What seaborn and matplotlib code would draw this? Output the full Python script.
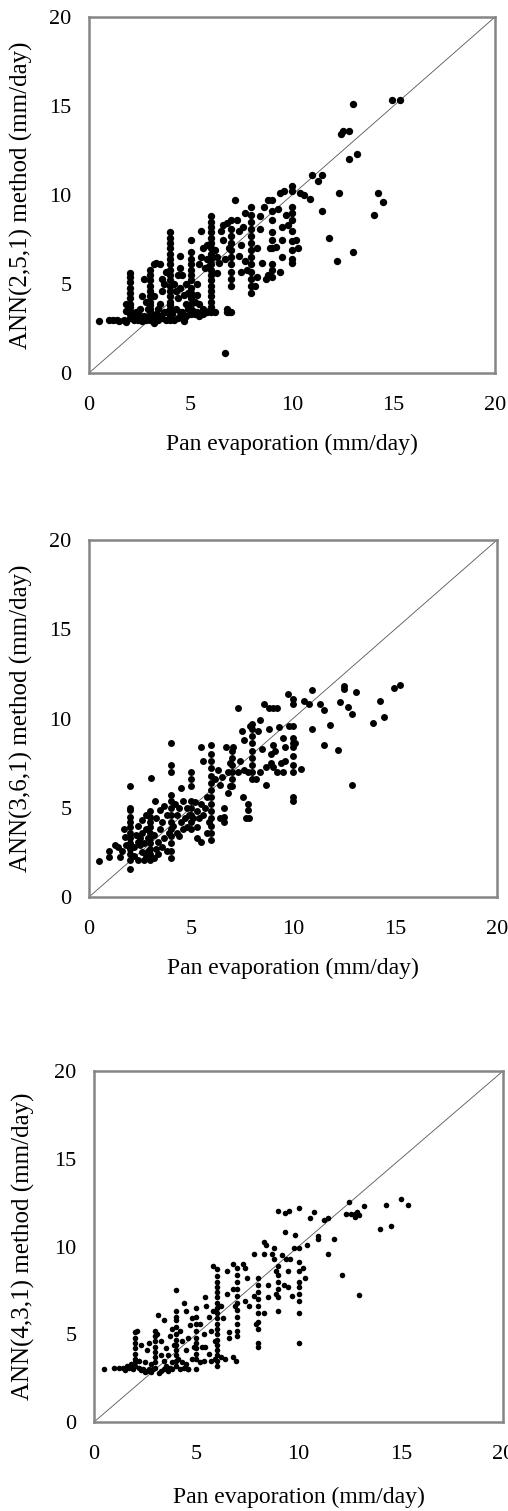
import matplotlib
matplotlib.use("Agg")
import matplotlib.pyplot as plt
import seaborn as sns
import pandas as pd

# ---------------- data ----------------
ticks = [0, 5, 10, 15, 20]
x_label = "Pan evaporation (mm/day)"
y_labels = ["ANN(2,5,1) method (mm/day)",
            "ANN(3,6,1) method (mm/day)",
            "ANN(4,3,1) method (mm/day)"]

pts_ann251 = [
    (0.5, 2.9), (1.0, 3.0), (1.2, 2.95), (1.4, 3.0), (1.5, 2.9), (1.7, 3.0), (1.8, 2.85), (2.2, 3.0),
    (2.4, 2.95), (2.5, 3.1), (2.6, 2.9), (2.8, 3.0), (3.2, 2.8), (3.4, 3.0), (3.6, 3.1), (3.8, 3.0),
    (4.2, 3.0), (4.4, 3.1), (4.6, 3.2), (4.7, 2.9), (5.2, 3.3), (5.4, 3.2), (5.6, 3.3), (5.8, 3.4),
    (6.2, 3.4), (6.8, 3.6), (6.9, 3.4), (7.0, 3.4), (2.1, 3.2), (2.3, 3.1), (2.7, 3.2), (3.1, 3.1),
    (3.5, 3.2), (3.7, 3.4), (4.1, 3.3), (4.5, 3.4), (4.8, 3.2), (5.1, 3.5), (5.3, 3.4), (5.7, 3.5),
    (2.0, 3.1), (2.0, 3.3), (2.0, 3.5), (2.0, 3.7), (2.0, 3.9), (2.0, 4.2), (2.0, 4.5), (2.0, 4.8),
    (2.0, 5.1), (2.0, 5.4), (2.0, 5.6), (1.8, 3.9), (1.8, 3.5),
    (2.3, 3.4), (2.5, 3.6), (2.6, 4.3), (2.7, 5.3), (2.8, 4.0), (2.9, 3.6), (2.5, 3.2),
    (3.0, 3.0), (3.0, 3.2), (3.0, 3.4), (3.0, 3.6), (3.0, 3.8), (3.0, 4.0), (3.0, 4.3), (3.0, 4.6),
    (3.0, 4.9), (3.0, 5.2), (3.0, 5.5), (3.0, 5.8),
    (3.2, 6.1), (3.3, 6.2), (3.5, 6.1), (3.2, 4.3), (3.4, 3.6), (3.5, 3.9), (3.6, 4.6), (3.7, 5.0),
    (3.8, 5.7), (3.6, 5.3), (3.3, 3.3), (3.8, 3.4),
    (4.0, 3.0), (4.0, 3.2), (4.0, 3.4), (4.0, 3.6), (4.0, 3.8), (4.0, 4.0), (4.0, 4.3), (4.0, 4.6),
    (4.0, 4.9), (4.0, 5.2), (4.0, 5.5), (4.0, 5.8), (4.0, 6.1), (4.0, 6.4), (4.0, 6.7), (4.0, 7.0),
    (4.0, 7.3), (4.0, 7.6), (4.0, 7.9),
    (4.2, 5.0), (4.3, 4.6), (4.4, 4.2), (4.5, 4.8), (4.5, 5.9), (4.5, 6.6), (4.6, 5.5), (4.7, 4.4),
    (4.8, 3.9), (4.8, 5.0), (4.9, 4.5), (4.3, 3.6), (4.6, 3.4), (4.9, 3.6), (4.4, 5.5),
    (5.0, 3.3), (5.0, 3.6), (5.0, 3.9), (5.0, 4.2), (5.0, 4.5), (5.0, 4.8), (5.0, 5.2), (5.0, 5.5),
    (5.0, 5.8), (5.0, 6.1), (5.0, 6.4), (5.0, 6.8), (5.0, 7.5),
    (5.2, 4.0), (5.3, 4.4), (5.4, 6.1), (5.5, 8.0), (5.5, 6.5), (5.6, 7.0), (5.7, 5.9), (5.8, 6.4),
    (5.8, 7.2), (5.6, 3.6), (5.4, 3.9), (5.9, 6.0), (5.3, 5.0),
    (6.0, 3.4), (6.0, 3.7), (6.0, 4.0), (6.0, 4.3), (6.0, 4.6), (6.0, 4.9), (6.0, 5.2), (6.0, 5.5),
    (6.0, 5.8), (6.0, 6.1), (6.0, 6.4), (6.0, 6.7), (6.0, 7.0), (6.0, 7.3), (6.0, 7.6), (6.0, 7.9),
    (6.0, 8.2), (6.0, 8.5), (6.0, 8.8),
    (6.2, 6.9), (6.3, 5.6), (6.4, 6.2), (6.5, 8.0), (6.6, 7.5), (6.6, 8.3), (6.7, 6.4), (6.8, 8.4),
    (6.9, 7.0), (6.7, 1.15), (6.8, 3.4), (6.3, 6.5),
    (7.0, 4.9), (7.0, 5.3), (7.0, 5.7), (7.0, 6.1), (7.0, 6.5), (7.0, 6.9), (7.0, 7.3), (7.0, 7.7),
    (7.0, 8.1), (7.0, 8.6),
    (7.2, 9.7), (7.3, 8.6), (7.4, 6.6), (7.5, 5.7), (7.5, 7.2), (7.6, 8.2), (7.7, 9.0), (7.7, 6.3),
    (7.8, 5.8), (7.4, 8.0),
    (8.0, 4.5), (8.0, 4.9), (8.0, 5.3), (8.0, 5.7), (8.0, 6.1), (8.0, 6.5), (8.0, 6.9), (8.0, 7.3),
    (8.0, 7.7), (8.0, 8.1), (8.0, 8.5), (8.0, 8.9), (8.0, 9.3),
    (8.2, 4.9), (8.3, 5.4), (8.4, 8.8), (8.3, 7.0), (8.5, 6.2), (8.4, 8.1), (8.6, 9.3), (8.7, 5.3),
    (8.8, 9.7), (8.9, 7.0), (8.8, 5.5),
    (9.0, 5.4), (9.0, 5.8), (9.0, 6.1), (9.0, 7.0), (9.0, 7.5), (9.0, 7.9), (9.0, 8.6), (9.0, 9.1),
    (9.0, 9.7),
    (9.2, 7.1), (9.3, 9.2), (9.4, 10.1), (9.5, 8.2), (9.5, 7.5), (9.5, 6.5), (9.4, 5.7), (9.6, 10.2),
    (9.8, 8.3), (9.7, 8.9),
    (10.0, 6.2), (10.0, 6.4), (10.0, 6.9), (10.0, 7.4), (10.0, 8.0), (10.0, 8.6), (10.0, 9.0),
    (10.0, 9.3), (10.0, 10.2), (10.0, 10.5),
    (10.2, 7.5), (10.3, 7.0), (10.4, 10.1), (10.6, 10.0), (10.9, 9.75), (11.0, 11.15), (11.3, 10.8),
    (11.5, 11.15), (11.5, 9.1), (11.8, 7.6), (12.2, 6.3), (12.3, 10.1), (12.4, 13.4), (12.5, 13.6),
    (12.8, 13.6), (12.8, 12.0), (13.0, 15.1), (13.0, 6.8), (13.2, 12.3), (14.05, 8.9), (14.25, 10.1),
    (14.5, 9.6), (14.95, 15.35), (15.3, 15.35),
]

pts_ann361 = [
    (0.5, 2.0), (1.0, 2.6), (1.0, 2.25), (1.25, 2.9), (1.4, 2.8), (1.5, 2.25), (1.6, 2.6), (1.7, 3.8),
    (1.75, 3.35), (1.8, 2.9), (2.0, 1.55),
    (2.0, 2.1), (2.0, 2.4), (2.0, 2.7), (2.0, 3.0), (2.0, 3.3), (2.0, 3.6), (2.0, 3.9), (2.0, 4.2),
    (2.0, 4.5), (2.0, 4.9), (2.0, 5.0), (2.0, 6.2),
    (2.2, 2.3), (2.3, 3.5), (2.4, 2.1), (2.4, 4.0), (2.5, 2.9), (2.5, 3.3), (2.6, 4.3), (2.7, 3.0),
    (2.7, 2.1), (2.8, 3.8), (2.8, 4.6), (2.9, 2.6), (2.9, 3.3), (2.6, 2.5), (2.2, 2.8), (2.4, 3.1),
    (2.6, 3.6), (2.8, 2.3), (3.2, 2.2), (3.4, 2.4),
    (3.0, 2.1), (3.0, 2.4), (3.0, 2.7), (3.0, 3.0), (3.0, 3.3), (3.0, 3.6), (3.0, 3.9), (3.0, 4.2),
    (3.0, 4.5), (3.0, 4.8),
    (3.05, 6.65), (3.2, 3.5), (3.25, 5.4), (3.3, 2.7), (3.3, 4.4), (3.4, 3.1), (3.5, 4.9), (3.5, 3.8),
    (3.6, 2.8), (3.6, 4.2), (3.7, 5.1), (3.7, 3.3), (3.8, 4.6), (3.8, 2.6), (3.9, 3.6),
    (4.0, 2.2), (4.0, 2.6), (4.0, 3.0), (4.0, 3.4), (4.0, 3.8), (4.0, 4.2), (4.0, 4.6), (4.0, 5.0),
    (4.0, 5.4), (4.0, 5.7), (4.0, 7.0), (4.0, 7.4), (4.0, 8.6),
    (4.1, 4.0), (4.2, 5.2), (4.3, 3.6), (4.3, 4.6), (4.4, 5.0), (4.5, 6.1), (4.5, 4.2), (4.6, 3.8),
    (4.6, 5.4), (4.7, 4.4), (4.8, 5.0), (4.8, 3.9), (4.9, 4.6), (4.4, 3.4),
    (5.0, 3.8), (5.0, 4.2), (5.0, 4.6), (5.0, 5.0), (5.0, 5.4), (5.0, 6.2), (5.0, 6.6), (5.0, 7.0),
    (5.1, 4.4), (5.2, 5.3), (5.3, 3.9), (5.3, 4.8), (5.4, 4.4), (5.5, 3.1), (5.5, 8.4), (5.5, 5.2),
    (5.6, 7.6), (5.6, 4.6), (5.7, 5.0), (5.8, 3.6), (5.8, 5.6), (5.9, 4.2), (5.3, 3.3),
    (6.0, 3.2), (6.0, 3.6), (6.0, 4.0), (6.0, 4.4), (6.0, 4.8), (6.0, 5.2), (6.0, 5.6), (6.0, 6.0),
    (6.0, 6.4), (6.0, 6.8), (6.0, 7.2), (6.0, 7.6), (6.0, 8.0), (6.0, 8.5),
    (6.2, 6.6), (6.3, 7.1), (6.4, 6.3), (6.5, 6.7), (6.6, 5.0), (6.6, 4.5), (6.6, 4.2), (6.7, 8.4),
    (6.8, 7.0), (6.8, 5.8), (6.9, 7.5), (6.9, 6.2), (6.4, 4.4),
    (7.0, 6.2), (7.0, 6.6), (7.0, 7.0), (7.0, 7.4), (7.0, 7.8), (7.0, 8.2),
    (7.05, 8.4), (7.3, 10.6), (7.3, 7.0), (7.4, 7.6), (7.5, 9.3), (7.55, 5.6), (7.6, 7.1), (7.8, 5.2),
    (7.8, 4.9), (7.85, 4.4), (7.7, 4.4), (7.8, 7.0), (7.9, 9.6), (7.6, 8.8),
    (8.0, 6.6), (8.0, 7.0), (8.0, 7.4), (8.0, 7.8), (8.0, 8.2), (8.0, 8.6), (8.0, 9.0), (8.0, 9.4),
    (8.0, 9.7),
    (8.2, 6.6), (8.4, 9.9), (8.3, 9.3), (8.5, 8.3), (8.6, 10.8), (8.7, 7.3), (8.7, 6.3), (8.8, 10.6),
    (8.8, 9.4), (8.9, 7.5), (8.9, 8.0), (8.4, 7.0),
    (9.0, 10.6), (9.0, 8.5), (9.0, 7.3), (9.1, 8.2), (9.2, 10.6), (9.2, 7.0), (9.3, 9.5), (9.4, 7.5),
    (9.5, 8.9), (9.5, 7.0), (9.6, 7.6), (9.6, 8.4), (9.75, 11.4), (9.8, 9.6),
    (10.0, 5.4), (10.0, 5.6), (10.0, 7.0), (10.0, 7.4), (10.0, 7.9), (10.0, 8.4), (10.0, 8.6),
    (10.0, 8.9), (10.0, 9.6), (10.0, 10.8), (10.0, 11.1),
    (10.1, 8.6), (10.4, 7.15), (10.55, 11.0), (10.8, 10.8), (10.95, 11.6), (10.95, 9.4), (11.3, 10.8),
    (11.5, 10.45), (11.5, 8.5), (11.8, 9.65), (12.2, 8.25), (12.3, 10.95), (12.5, 11.8), (12.5, 11.65),
    (12.7, 10.65), (12.9, 10.25), (12.9, 6.3), (13.1, 11.5), (13.9, 9.75), (14.25, 11.0), (14.45, 10.1),
    (14.95, 11.7), (15.25, 11.9),
]

pts_ann431 = [
    (0.5, 3.0), (1.0, 3.1), (1.2, 3.1), (1.4, 3.1), (1.5, 2.95), (1.6, 3.2), (1.7, 3.1), (1.8, 3.3),
    (1.9, 3.0), (2.2, 3.1), (2.3, 2.95), (2.4, 3.0), (2.5, 2.85), (2.6, 2.9), (2.7, 3.0), (2.8, 2.85),
    (2.9, 3.0), (3.2, 2.8), (3.3, 2.9), (3.4, 3.0), (3.6, 2.9), (3.7, 3.1), (3.8, 3.0), (4.2, 3.0),
    (4.4, 3.1), (4.5, 3.3), (4.6, 3.0), (5.0, 3.0), (5.2, 3.4), (5.4, 3.5), (5.7, 3.5), (5.9, 3.6),
    (6.2, 3.7), (6.4, 3.6), (6.8, 3.7), (6.95, 3.5),
    (2.0, 3.2), (2.0, 3.4), (2.0, 3.6), (2.0, 3.9), (2.0, 4.2), (2.0, 4.5), (2.0, 4.8), (2.0, 5.1),
    (2.1, 5.2), (2.2, 3.5), (2.3, 4.4), (2.6, 4.1), (2.7, 4.5), (2.5, 3.4), (2.8, 3.3),
    (3.0, 3.1), (3.0, 3.4), (3.0, 3.7), (3.0, 4.0), (3.0, 4.3), (3.0, 4.6), (3.0, 4.9), (3.0, 5.2),
    (3.1, 5.0), (3.15, 6.1), (3.3, 4.6), (3.4, 5.8), (3.4, 3.5), (3.5, 4.2), (3.5, 3.2), (3.6, 3.8),
    (3.7, 4.9), (3.8, 5.3), (3.8, 3.4), (3.9, 4.4), (3.3, 3.8),
    (4.0, 3.2), (4.0, 3.5), (4.0, 3.8), (4.0, 4.1), (4.0, 4.4), (4.0, 4.7), (4.0, 5.0), (4.0, 5.4),
    (4.0, 5.8), (4.0, 6.0), (4.0, 6.3), (4.0, 7.5),
    (4.1, 3.6), (4.2, 5.2), (4.3, 4.6), (4.3, 3.4), (4.4, 6.8), (4.5, 6.3), (4.5, 4.1), (4.6, 4.8),
    (4.6, 3.0), (4.7, 5.5), (4.8, 3.6), (4.9, 4.3), (4.8, 5.9),
    (5.0, 3.6), (5.0, 3.9), (5.0, 4.2), (5.0, 4.5), (5.0, 4.8), (5.0, 5.2), (5.0, 5.6), (5.0, 6.0),
    (5.0, 6.5),
    (5.2, 5.6), (5.3, 4.3), (5.45, 7.1), (5.45, 4.3), (5.5, 6.6), (5.6, 6.0), (5.6, 3.9), (5.7, 5.2),
    (5.8, 8.9), (5.8, 6.3), (5.9, 4.6), (5.4, 5.0),
    (6.0, 3.2), (6.0, 3.5), (6.0, 3.8), (6.0, 4.1), (6.0, 4.4), (6.0, 4.7), (6.0, 5.0), (6.0, 5.3),
    (6.0, 5.6), (6.0, 5.9), (6.0, 6.2), (6.0, 6.5), (6.0, 6.8), (6.0, 7.1), (6.0, 7.4), (6.0, 7.7),
    (6.0, 8.0), (6.0, 8.3), (6.0, 8.7),
    (6.2, 6.6), (6.3, 5.9), (6.5, 8.6), (6.5, 7.3), (6.6, 5.1), (6.6, 4.8), (6.8, 9.0), (6.8, 7.6),
    (6.9, 6.6),
    (7.0, 4.9), (7.0, 5.2), (7.0, 5.6), (7.0, 6.0), (7.0, 6.4), (7.0, 6.8), (7.0, 7.2), (7.0, 7.6),
    (7.0, 8.0), (7.0, 8.4), (7.0, 8.8),
    (7.3, 9.0), (7.4, 8.8), (7.4, 6.9), (7.5, 8.2), (7.6, 6.6), (7.8, 9.6), (7.8, 7.2), (7.9, 5.6),
    (8.0, 4.3), (8.0, 4.5), (8.0, 5.3), (8.0, 5.7), (8.0, 6.2), (8.0, 6.6), (8.0, 7.0), (8.0, 7.4),
    (8.0, 7.8), (8.0, 8.2),
    (8.3, 10.25), (8.4, 10.1), (8.3, 9.6), (8.3, 6.2), (8.5, 7.8), (8.5, 7.1), (8.7, 9.6), (8.8, 9.9),
    (8.9, 8.6), (8.9, 7.3), (8.8, 9.3),
    (9.0, 12.05), (9.35, 11.9), (9.55, 12.0), (9.35, 10.8), (9.0, 6.3), (9.0, 7.1), (9.0, 7.6),
    (9.0, 8.0), (9.0, 8.4), (9.0, 8.9), (9.2, 9.5), (9.3, 7.8), (9.4, 9.3), (9.5, 7.7), (9.5, 8.6),
    (9.6, 9.3), (9.7, 7.2), (9.85, 10.65), (9.8, 9.9),
    (10.0, 6.2), (10.0, 6.9), (10.0, 7.3), (10.0, 7.7), (10.0, 8.0), (10.0, 8.6), (10.0, 9.1),
    (10.0, 9.9), (10.0, 12.2), (10.0, 4.5),
    (10.2, 8.8), (10.3, 8.2), (10.4, 10.1), (10.55, 11.6), (10.75, 11.95), (10.95, 10.6), (10.95, 10.45),
    (11.25, 11.5), (11.45, 11.6), (11.45, 9.6), (11.75, 10.45), (12.15, 8.35), (12.3, 11.85),
    (12.45, 12.55), (12.55, 11.85), (12.75, 11.85), (12.75, 11.7), (12.85, 11.95), (12.95, 11.8),
    (13.2, 12.3), (12.95, 7.25), (14.0, 11.0), (14.3, 12.35), (14.5, 11.15), (15.0, 12.7), (15.35, 12.35),
]

panels = [pts_ann251, pts_ann361, pts_ann431]

# ---------------- layout ----------------
W, H = 508, 1511
DPI = 100
axes_px = [  # left, right, top, bottom in pixels
    (89, 495, 17, 373),
    (89, 497, 540, 897),
    (94, 503, 1071, 1422),
]
marker_sizes = [28, 25, 16]
xlabel_top_px = [61, 61, 65]   # distance of x-label top below the axis
ylabel_right_px = [56, 56, 59]  # distance of y-label right edge left of the axis

sns.set_theme(style="white")
plt.rcParams["font.family"] = ["Liberation Serif", "DejaVu Serif"]

fig = plt.figure(figsize=(W / DPI, H / DPI), dpi=DPI)
for i, pts in enumerate(panels):
    l, r, t, b = axes_px[i]
    ax = fig.add_axes([l / W, 1 - b / H, (r - l) / W, (b - t) / H])
    df = pd.DataFrame(pts, columns=["pan", "ann"])
    ax.plot([0, 20], [0, 20], color="#555555", lw=0.6, zorder=1)
    sns.scatterplot(data=df, x="pan", y="ann", ax=ax, color="black",
                    s=marker_sizes[i], linewidth=0, zorder=2, legend=False)
    ax.set_xlim(0, 20)
    ax.set_ylim(0, 20)
    ax.set_xticks(ticks)
    ax.set_yticks(ticks)
    ax.set_xticklabels([str(v) for v in ticks])
    ax.set_yticklabels([str(v) for v in ticks])
    for sp in ax.spines.values():
        sp.set_color("#858585")
        sp.set_linewidth(1.8)
    ax.tick_params(axis="both", direction="out", length=4, width=0.9,
                   color="#444444", labelsize=16, labelcolor="black")
    ax.tick_params(axis="x", pad=12.5)
    ax.tick_params(axis="y", pad=8.5)
    ax.set_xlabel(x_label, fontsize=17, color="black")
    ax.set_ylabel(y_labels[i], fontsize=18, color="black")
    ax.xaxis.set_label_coords(0.5, -xlabel_top_px[i] / (b - t))
    ax.yaxis.set_label_coords(-ylabel_right_px[i] / (r - l), 0.5)
    ax.grid(False)

fig.savefig("out.png", dpi=DPI, facecolor="white")
